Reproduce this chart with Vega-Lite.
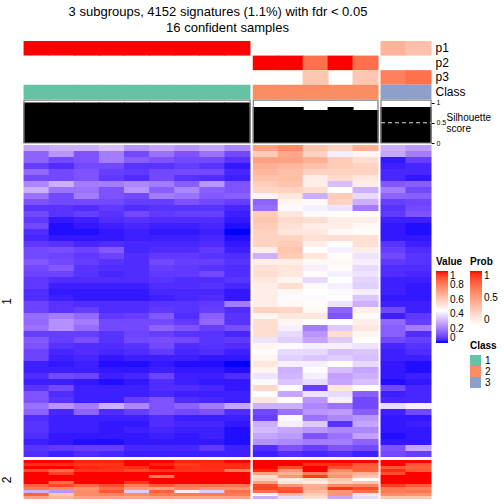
{"$schema":"https://vega.github.io/schema/vega-lite/v6.json","width":504,"height":504,"padding":0,"autosize":{"type":"none"},"background":"white","config":{"view":{"stroke":null},"font":"Liberation Sans","text":{"font":"Liberation Sans"}},"title":{"text":"3 subgroups, 4152 signatures (1.1%) with fdr < 0.05","font":"Liberation Sans","fontSize":13,"fontWeight":"normal","color":"#000000","anchor":"start","frame":"group","align":"center","dx":218,"dy":19,"offset":0},"datasets":{"cells":[
{"c":1,"r":1,"v":0.28},{"c":2,"r":1,"v":0.3},{"c":3,"r":1,"v":0.3},{"c":4,"r":1,"v":0.33},{"c":5,"r":1,"v":0.25},{"c":6,"r":1,"v":0.28},{"c":7,"r":1,"v":0.25},{"c":8,"r":1,"v":0.28},{"c":9,"r":1,"v":0.22},{"c":10,"r":1,"v":0.72},{"c":11,"r":1,"v":0.78},{"c":12,"r":1,"v":0.62},{"c":13,"r":1,"v":0.58},{"c":14,"r":1,"v":0.68},{"c":15,"r":1,"v":0.3},{"c":16,"r":1,"v":0.26},
{"c":1,"r":2,"v":0.15},{"c":2,"r":2,"v":0.25},{"c":3,"r":2,"v":0.12},{"c":4,"r":2,"v":0.2},{"c":5,"r":2,"v":0.1},{"c":6,"r":2,"v":0.18},{"c":7,"r":2,"v":0.12},{"c":8,"r":2,"v":0.18},{"c":9,"r":2,"v":0.1},{"c":10,"r":2,"v":0.6},{"c":11,"r":2,"v":0.7},{"c":12,"r":2,"v":0.58},{"c":13,"r":2,"v":0.42},{"c":14,"r":2,"v":0.48},{"c":15,"r":2,"v":0.28},{"c":16,"r":2,"v":0.2},
{"c":1,"r":3,"v":0.15},{"c":2,"r":3,"v":0.1},{"c":3,"r":3,"v":0.12},{"c":4,"r":3,"v":0.2},{"c":5,"r":3,"v":0.14},{"c":6,"r":3,"v":0.12},{"c":7,"r":3,"v":0.1},{"c":8,"r":3,"v":0.1},{"c":9,"r":3,"v":0.06},{"c":10,"r":3,"v":0.72},{"c":11,"r":3,"v":0.72},{"c":12,"r":3,"v":0.68},{"c":13,"r":3,"v":0.6},{"c":14,"r":3,"v":0.55},{"c":15,"r":3,"v":0.02},{"c":16,"r":3,"v":0.08},
{"c":1,"r":4,"v":0.08},{"c":2,"r":4,"v":0.05},{"c":3,"r":4,"v":0.1},{"c":4,"r":4,"v":0.1},{"c":5,"r":4,"v":0.06},{"c":6,"r":4,"v":0.06},{"c":7,"r":4,"v":0.08},{"c":8,"r":4,"v":0.06},{"c":9,"r":4,"v":0.02},{"c":10,"r":4,"v":0.68},{"c":11,"r":4,"v":0.66},{"c":12,"r":4,"v":0.63},{"c":13,"r":4,"v":0.6},{"c":14,"r":4,"v":0.58},{"c":15,"r":4,"v":0.03},{"c":16,"r":4,"v":0.04},
{"c":1,"r":5,"v":0.16},{"c":2,"r":5,"v":0.1},{"c":3,"r":5,"v":0.12},{"c":4,"r":5,"v":0.08},{"c":5,"r":5,"v":0.07},{"c":6,"r":5,"v":0.1},{"c":7,"r":5,"v":0.1},{"c":8,"r":5,"v":0.1},{"c":9,"r":5,"v":0.04},{"c":10,"r":5,"v":0.66},{"c":11,"r":5,"v":0.64},{"c":12,"r":5,"v":0.58},{"c":13,"r":5,"v":0.58},{"c":14,"r":5,"v":0.58},{"c":15,"r":5,"v":0.04},{"c":16,"r":5,"v":0.04},
{"c":1,"r":6,"v":0.1},{"c":2,"r":6,"v":0.1},{"c":3,"r":6,"v":0.12},{"c":4,"r":6,"v":0.07},{"c":5,"r":6,"v":0.05},{"c":6,"r":6,"v":0.1},{"c":7,"r":6,"v":0.06},{"c":8,"r":6,"v":0.05},{"c":9,"r":6,"v":0.03},{"c":10,"r":6,"v":0.63},{"c":11,"r":6,"v":0.64},{"c":12,"r":6,"v":0.5},{"c":13,"r":6,"v":0.56},{"c":14,"r":6,"v":0.52},{"c":15,"r":6,"v":0.04},{"c":16,"r":6,"v":0.02},
{"c":1,"r":7,"v":0.22},{"c":2,"r":7,"v":0.3},{"c":3,"r":7,"v":0.2},{"c":4,"r":7,"v":0.2},{"c":5,"r":7,"v":0.22},{"c":6,"r":7,"v":0.2},{"c":7,"r":7,"v":0.14},{"c":8,"r":7,"v":0.25},{"c":9,"r":7,"v":0.12},{"c":10,"r":7,"v":0.6},{"c":11,"r":7,"v":0.62},{"c":12,"r":7,"v":0.5},{"c":13,"r":7,"v":0.33},{"c":14,"r":7,"v":0.5},{"c":15,"r":7,"v":0.13},{"c":16,"r":7,"v":0.14},
{"c":1,"r":8,"v":0.3},{"c":2,"r":8,"v":0.18},{"c":3,"r":8,"v":0.18},{"c":4,"r":8,"v":0.12},{"c":5,"r":8,"v":0.25},{"c":6,"r":8,"v":0.14},{"c":7,"r":8,"v":0.22},{"c":8,"r":8,"v":0.14},{"c":9,"r":8,"v":0.12},{"c":10,"r":8,"v":0.57},{"c":11,"r":8,"v":0.58},{"c":12,"r":8,"v":0.55},{"c":13,"r":8,"v":0.45},{"c":14,"r":8,"v":0.3},{"c":15,"r":8,"v":0.2},{"c":16,"r":8,"v":0.1},
{"c":1,"r":9,"v":0.18},{"c":2,"r":9,"v":0.1},{"c":3,"r":9,"v":0.2},{"c":4,"r":9,"v":0.12},{"c":5,"r":9,"v":0.1},{"c":6,"r":9,"v":0.2},{"c":7,"r":9,"v":0.18},{"c":8,"r":9,"v":0.13},{"c":9,"r":9,"v":0.14},{"c":10,"r":9,"v":0.48},{"c":11,"r":9,"v":0.52},{"c":12,"r":9,"v":0.3},{"c":13,"r":9,"v":0.6},{"c":14,"r":9,"v":0.38},{"c":15,"r":9,"v":0.15},{"c":16,"r":9,"v":0.14},
{"c":1,"r":10,"v":0.12},{"c":2,"r":10,"v":0.1},{"c":3,"r":10,"v":0.1},{"c":4,"r":10,"v":0.1},{"c":5,"r":10,"v":0.08},{"c":6,"r":10,"v":0.08},{"c":7,"r":10,"v":0.12},{"c":8,"r":10,"v":0.1},{"c":9,"r":10,"v":0.08},{"c":10,"r":10,"v":0.15},{"c":11,"r":10,"v":0.48},{"c":12,"r":10,"v":0.47},{"c":13,"r":10,"v":0.58},{"c":14,"r":10,"v":0.3},{"c":15,"r":10,"v":0.08},{"c":16,"r":10,"v":0.09},
{"c":1,"r":11,"v":0.06},{"c":2,"r":11,"v":0.06},{"c":3,"r":11,"v":0.05},{"c":4,"r":11,"v":0.07},{"c":5,"r":11,"v":0.05},{"c":6,"r":11,"v":0.06},{"c":7,"r":11,"v":0.06},{"c":8,"r":11,"v":0.06},{"c":9,"r":11,"v":0.04},{"c":10,"r":11,"v":0.17},{"c":11,"r":11,"v":0.44},{"c":12,"r":11,"v":0.42},{"c":13,"r":11,"v":0.4},{"c":14,"r":11,"v":0.2},{"c":15,"r":11,"v":0.06},{"c":16,"r":11,"v":0.1},
{"c":1,"r":12,"v":0.1},{"c":2,"r":12,"v":0.06},{"c":3,"r":12,"v":0.08},{"c":4,"r":12,"v":0.06},{"c":5,"r":12,"v":0.1},{"c":6,"r":12,"v":0.07},{"c":7,"r":12,"v":0.08},{"c":8,"r":12,"v":0.08},{"c":9,"r":12,"v":0.03},{"c":10,"r":12,"v":0.6},{"c":11,"r":12,"v":0.52},{"c":12,"r":12,"v":0.44},{"c":13,"r":12,"v":0.46},{"c":14,"r":12,"v":0.46},{"c":15,"r":12,"v":0.07},{"c":16,"r":12,"v":0.12},
{"c":1,"r":13,"v":0.07},{"c":2,"r":13,"v":0.02},{"c":3,"r":13,"v":0.03},{"c":4,"r":13,"v":0.05},{"c":5,"r":13,"v":0.06},{"c":6,"r":13,"v":0.05},{"c":7,"r":13,"v":0.05},{"c":8,"r":13,"v":0.05},{"c":9,"r":13,"v":0.02},{"c":10,"r":13,"v":0.62},{"c":11,"r":13,"v":0.56},{"c":12,"r":13,"v":0.55},{"c":13,"r":13,"v":0.5},{"c":14,"r":13,"v":0.5},{"c":15,"r":13,"v":0.03},{"c":16,"r":13,"v":0.03},
{"c":1,"r":14,"v":0.1},{"c":2,"r":14,"v":0.01},{"c":3,"r":14,"v":0.02},{"c":4,"r":14,"v":0.03},{"c":5,"r":14,"v":0.04},{"c":6,"r":14,"v":0.03},{"c":7,"r":14,"v":0.03},{"c":8,"r":14,"v":0.04},{"c":9,"r":14,"v":0.01},{"c":10,"r":14,"v":0.6},{"c":11,"r":14,"v":0.54},{"c":12,"r":14,"v":0.5},{"c":13,"r":14,"v":0.5},{"c":14,"r":14,"v":0.47},{"c":15,"r":14,"v":0.02},{"c":16,"r":14,"v":0.01},
{"c":1,"r":15,"v":0.05},{"c":2,"r":15,"v":0.01},{"c":3,"r":15,"v":0.01},{"c":4,"r":15,"v":0.02},{"c":5,"r":15,"v":0.03},{"c":6,"r":15,"v":0.02},{"c":7,"r":15,"v":0.02},{"c":8,"r":15,"v":0.03},{"c":9,"r":15,"v":0},{"c":10,"r":15,"v":0.58},{"c":11,"r":15,"v":0.52},{"c":12,"r":15,"v":0.52},{"c":13,"r":15,"v":0.47},{"c":14,"r":15,"v":0.46},{"c":15,"r":15,"v":0.02},{"c":16,"r":15,"v":0.01},
{"c":1,"r":16,"v":0.04},{"c":2,"r":16,"v":0.02},{"c":3,"r":16,"v":0.02},{"c":4,"r":16,"v":0.02},{"c":5,"r":16,"v":0.03},{"c":6,"r":16,"v":0.03},{"c":7,"r":16,"v":0.03},{"c":8,"r":16,"v":0.04},{"c":9,"r":16,"v":0.01},{"c":10,"r":16,"v":0.58},{"c":11,"r":16,"v":0.58},{"c":12,"r":16,"v":0.54},{"c":13,"r":16,"v":0.55},{"c":14,"r":16,"v":0.54},{"c":15,"r":16,"v":0.02},{"c":16,"r":16,"v":0.02},
{"c":1,"r":17,"v":0.07},{"c":2,"r":17,"v":0.06},{"c":3,"r":17,"v":0.04},{"c":4,"r":17,"v":0.05},{"c":5,"r":17,"v":0.04},{"c":6,"r":17,"v":0.04},{"c":7,"r":17,"v":0.04},{"c":8,"r":17,"v":0.05},{"c":9,"r":17,"v":0.02},{"c":10,"r":17,"v":0.58},{"c":11,"r":17,"v":0.6},{"c":12,"r":17,"v":0.5},{"c":13,"r":17,"v":0.45},{"c":14,"r":17,"v":0.54},{"c":15,"r":17,"v":0.06},{"c":16,"r":17,"v":0.03},
{"c":1,"r":18,"v":0.1},{"c":2,"r":18,"v":0.11},{"c":3,"r":18,"v":0.09},{"c":4,"r":18,"v":0.13},{"c":5,"r":18,"v":0.04},{"c":6,"r":18,"v":0.05},{"c":7,"r":18,"v":0.05},{"c":8,"r":18,"v":0.07},{"c":9,"r":18,"v":0.03},{"c":10,"r":18,"v":0.5},{"c":11,"r":18,"v":0.62},{"c":12,"r":18,"v":0.45},{"c":13,"r":18,"v":0.42},{"c":14,"r":18,"v":0.5},{"c":15,"r":18,"v":0.08},{"c":16,"r":18,"v":0.05},
{"c":1,"r":19,"v":0.1},{"c":2,"r":19,"v":0.09},{"c":3,"r":19,"v":0.07},{"c":4,"r":19,"v":0.09},{"c":5,"r":19,"v":0.05},{"c":6,"r":19,"v":0.07},{"c":7,"r":19,"v":0.07},{"c":8,"r":19,"v":0.06},{"c":9,"r":19,"v":0.05},{"c":10,"r":19,"v":0.3},{"c":11,"r":19,"v":0.6},{"c":12,"r":19,"v":0.52},{"c":13,"r":19,"v":0.46},{"c":14,"r":19,"v":0.4},{"c":15,"r":19,"v":0.1},{"c":16,"r":19,"v":0.06},
{"c":1,"r":20,"v":0.13},{"c":2,"r":20,"v":0.1},{"c":3,"r":20,"v":0.08},{"c":4,"r":20,"v":0.06},{"c":5,"r":20,"v":0.05},{"c":6,"r":20,"v":0.1},{"c":7,"r":20,"v":0.08},{"c":8,"r":20,"v":0.08},{"c":9,"r":20,"v":0.06},{"c":10,"r":20,"v":0.5},{"c":11,"r":20,"v":0.5},{"c":12,"r":20,"v":0.47},{"c":13,"r":20,"v":0.47},{"c":14,"r":20,"v":0.42},{"c":15,"r":20,"v":0.07},{"c":16,"r":20,"v":0.06},
{"c":1,"r":21,"v":0.1},{"c":2,"r":21,"v":0.13},{"c":3,"r":21,"v":0.06},{"c":4,"r":21,"v":0.05},{"c":5,"r":21,"v":0.05},{"c":6,"r":21,"v":0.08},{"c":7,"r":21,"v":0.07},{"c":8,"r":21,"v":0.06},{"c":9,"r":21,"v":0.05},{"c":10,"r":21,"v":0.54},{"c":11,"r":21,"v":0.53},{"c":12,"r":21,"v":0.42},{"c":13,"r":21,"v":0.46},{"c":14,"r":21,"v":0.38},{"c":15,"r":21,"v":0.05},{"c":16,"r":21,"v":0.05},
{"c":1,"r":22,"v":0.09},{"c":2,"r":22,"v":0.09},{"c":3,"r":22,"v":0.06},{"c":4,"r":22,"v":0.04},{"c":5,"r":22,"v":0.05},{"c":6,"r":22,"v":0.07},{"c":7,"r":22,"v":0.07},{"c":8,"r":22,"v":0.1},{"c":9,"r":22,"v":0.05},{"c":10,"r":22,"v":0.55},{"c":11,"r":22,"v":0.52},{"c":12,"r":22,"v":0.46},{"c":13,"r":22,"v":0.42},{"c":14,"r":22,"v":0.4},{"c":15,"r":22,"v":0.05},{"c":16,"r":22,"v":0.04},
{"c":1,"r":23,"v":0.07},{"c":2,"r":23,"v":0.05},{"c":3,"r":23,"v":0.05},{"c":4,"r":23,"v":0.05},{"c":5,"r":23,"v":0.05},{"c":6,"r":23,"v":0.06},{"c":7,"r":23,"v":0.05},{"c":8,"r":23,"v":0.05},{"c":9,"r":23,"v":0.06},{"c":10,"r":23,"v":0.52},{"c":11,"r":23,"v":0.48},{"c":12,"r":23,"v":0.38},{"c":13,"r":23,"v":0.45},{"c":14,"r":23,"v":0.37},{"c":15,"r":23,"v":0.03},{"c":16,"r":23,"v":0.03},
{"c":1,"r":24,"v":0.07},{"c":2,"r":24,"v":0.03},{"c":3,"r":24,"v":0.03},{"c":4,"r":24,"v":0.03},{"c":5,"r":24,"v":0.03},{"c":6,"r":24,"v":0.05},{"c":7,"r":24,"v":0.05},{"c":8,"r":24,"v":0.06},{"c":9,"r":24,"v":0.04},{"c":10,"r":24,"v":0.5},{"c":11,"r":24,"v":0.55},{"c":12,"r":24,"v":0.44},{"c":13,"r":24,"v":0.42},{"c":14,"r":24,"v":0.36},{"c":15,"r":24,"v":0.03},{"c":16,"r":24,"v":0.02},
{"c":1,"r":25,"v":0.05},{"c":2,"r":25,"v":0.02},{"c":3,"r":25,"v":0.02},{"c":4,"r":25,"v":0.02},{"c":5,"r":25,"v":0.02},{"c":6,"r":25,"v":0.04},{"c":7,"r":25,"v":0.04},{"c":8,"r":25,"v":0.04},{"c":9,"r":25,"v":0.02},{"c":10,"r":25,"v":0.5},{"c":11,"r":25,"v":0.47},{"c":12,"r":25,"v":0.45},{"c":13,"r":25,"v":0.44},{"c":14,"r":25,"v":0.42},{"c":15,"r":25,"v":0.03},{"c":16,"r":25,"v":0.02},
{"c":1,"r":26,"v":0.05},{"c":2,"r":26,"v":0.03},{"c":3,"r":26,"v":0.02},{"c":4,"r":26,"v":0.02},{"c":5,"r":26,"v":0.02},{"c":6,"r":26,"v":0.03},{"c":7,"r":26,"v":0.04},{"c":8,"r":26,"v":0.05},{"c":9,"r":26,"v":0.02},{"c":10,"r":26,"v":0.5},{"c":11,"r":26,"v":0.44},{"c":12,"r":26,"v":0.44},{"c":13,"r":26,"v":0.45},{"c":14,"r":26,"v":0.34},{"c":15,"r":26,"v":0.02},{"c":16,"r":26,"v":0.02},
{"c":1,"r":27,"v":0.09},{"c":2,"r":27,"v":0.06},{"c":3,"r":27,"v":0.05},{"c":4,"r":27,"v":0.05},{"c":5,"r":27,"v":0.05},{"c":6,"r":27,"v":0.06},{"c":7,"r":27,"v":0.06},{"c":8,"r":27,"v":0.07},{"c":9,"r":27,"v":0.2},{"c":10,"r":27,"v":0.5},{"c":11,"r":27,"v":0.47},{"c":12,"r":27,"v":0.46},{"c":13,"r":27,"v":0.4},{"c":14,"r":27,"v":0.3},{"c":15,"r":27,"v":0.03},{"c":16,"r":27,"v":0.03},
{"c":1,"r":28,"v":0.09},{"c":2,"r":28,"v":0.06},{"c":3,"r":28,"v":0.08},{"c":4,"r":28,"v":0.05},{"c":5,"r":28,"v":0.05},{"c":6,"r":28,"v":0.07},{"c":7,"r":28,"v":0.06},{"c":8,"r":28,"v":0.08},{"c":9,"r":28,"v":0.05},{"c":10,"r":28,"v":0.58},{"c":11,"r":28,"v":0.57},{"c":12,"r":28,"v":0.47},{"c":13,"r":28,"v":0.15},{"c":14,"r":28,"v":0.5},{"c":15,"r":28,"v":0.1},{"c":16,"r":28,"v":0.03},
{"c":1,"r":29,"v":0.17},{"c":2,"r":29,"v":0.2},{"c":3,"r":29,"v":0.16},{"c":4,"r":29,"v":0.07},{"c":5,"r":29,"v":0.08},{"c":6,"r":29,"v":0.13},{"c":7,"r":29,"v":0.05},{"c":8,"r":29,"v":0.14},{"c":9,"r":29,"v":0.06},{"c":10,"r":29,"v":0.48},{"c":11,"r":29,"v":0.52},{"c":12,"r":29,"v":0.52},{"c":13,"r":29,"v":0.12},{"c":14,"r":29,"v":0.46},{"c":15,"r":29,"v":0.03},{"c":16,"r":29,"v":0.07},
{"c":1,"r":30,"v":0.16},{"c":2,"r":30,"v":0.24},{"c":3,"r":30,"v":0.2},{"c":4,"r":30,"v":0.1},{"c":5,"r":30,"v":0.1},{"c":6,"r":30,"v":0.1},{"c":7,"r":30,"v":0.07},{"c":8,"r":30,"v":0.16},{"c":9,"r":30,"v":0.06},{"c":10,"r":30,"v":0.55},{"c":11,"r":30,"v":0.48},{"c":12,"r":30,"v":0.45},{"c":13,"r":30,"v":0.45},{"c":14,"r":30,"v":0.5},{"c":15,"r":30,"v":0.16},{"c":16,"r":30,"v":0.08},
{"c":1,"r":31,"v":0.18},{"c":2,"r":31,"v":0.24},{"c":3,"r":31,"v":0.17},{"c":4,"r":31,"v":0.1},{"c":5,"r":31,"v":0.1},{"c":6,"r":31,"v":0.15},{"c":7,"r":31,"v":0.12},{"c":8,"r":31,"v":0.08},{"c":9,"r":31,"v":0.11},{"c":10,"r":31,"v":0.55},{"c":11,"r":31,"v":0.42},{"c":12,"r":31,"v":0.2},{"c":13,"r":31,"v":0.35},{"c":14,"r":31,"v":0.52},{"c":15,"r":31,"v":0.14},{"c":16,"r":31,"v":0.2},
{"c":1,"r":32,"v":0.08},{"c":2,"r":32,"v":0.08},{"c":3,"r":32,"v":0.08},{"c":4,"r":32,"v":0.06},{"c":5,"r":32,"v":0.09},{"c":6,"r":32,"v":0.08},{"c":7,"r":32,"v":0.06},{"c":8,"r":32,"v":0.06},{"c":9,"r":32,"v":0.04},{"c":10,"r":32,"v":0.55},{"c":11,"r":32,"v":0.38},{"c":12,"r":32,"v":0.25},{"c":13,"r":32,"v":0.55},{"c":14,"r":32,"v":0.48},{"c":15,"r":32,"v":0.14},{"c":16,"r":32,"v":0.05},
{"c":1,"r":33,"v":0.13},{"c":2,"r":33,"v":0.08},{"c":3,"r":33,"v":0.11},{"c":4,"r":33,"v":0.06},{"c":5,"r":33,"v":0.1},{"c":6,"r":33,"v":0.11},{"c":7,"r":33,"v":0.1},{"c":8,"r":33,"v":0.06},{"c":9,"r":33,"v":0.07},{"c":10,"r":33,"v":0.4},{"c":11,"r":33,"v":0.36},{"c":12,"r":33,"v":0.28},{"c":13,"r":33,"v":0.35},{"c":14,"r":33,"v":0.45},{"c":15,"r":33,"v":0.1},{"c":16,"r":33,"v":0.08},
{"c":1,"r":34,"v":0.12},{"c":2,"r":34,"v":0.06},{"c":3,"r":34,"v":0.05},{"c":4,"r":34,"v":0.05},{"c":5,"r":34,"v":0.06},{"c":6,"r":34,"v":0.1},{"c":7,"r":34,"v":0.05},{"c":8,"r":34,"v":0.06},{"c":9,"r":34,"v":0.05},{"c":10,"r":34,"v":0.48},{"c":11,"r":34,"v":0.44},{"c":12,"r":34,"v":0.42},{"c":13,"r":34,"v":0.42},{"c":14,"r":34,"v":0.4},{"c":15,"r":34,"v":0.04},{"c":16,"r":34,"v":0.06},
{"c":1,"r":35,"v":0.09},{"c":2,"r":35,"v":0.04},{"c":3,"r":35,"v":0.05},{"c":4,"r":35,"v":0.04},{"c":5,"r":35,"v":0.05},{"c":6,"r":35,"v":0.07},{"c":7,"r":35,"v":0.04},{"c":8,"r":35,"v":0.05},{"c":9,"r":35,"v":0.03},{"c":10,"r":35,"v":0.46},{"c":11,"r":35,"v":0.38},{"c":12,"r":35,"v":0.38},{"c":13,"r":35,"v":0.33},{"c":14,"r":35,"v":0.34},{"c":15,"r":35,"v":0.03},{"c":16,"r":35,"v":0.05},
{"c":1,"r":36,"v":0.09},{"c":2,"r":36,"v":0.03},{"c":3,"r":36,"v":0.04},{"c":4,"r":36,"v":0.02},{"c":5,"r":36,"v":0.03},{"c":6,"r":36,"v":0.03},{"c":7,"r":36,"v":0.03},{"c":8,"r":36,"v":0.02},{"c":9,"r":36,"v":0.02},{"c":10,"r":36,"v":0.48},{"c":11,"r":36,"v":0.36},{"c":12,"r":36,"v":0.34},{"c":13,"r":36,"v":0.36},{"c":14,"r":36,"v":0.33},{"c":15,"r":36,"v":0.03},{"c":16,"r":36,"v":0.03},
{"c":1,"r":37,"v":0.03},{"c":2,"r":37,"v":0.02},{"c":3,"r":37,"v":0.03},{"c":4,"r":37,"v":0.01},{"c":5,"r":37,"v":0.01},{"c":6,"r":37,"v":0.02},{"c":7,"r":37,"v":0.01},{"c":8,"r":37,"v":0.01},{"c":9,"r":37,"v":0},{"c":10,"r":37,"v":0.52},{"c":11,"r":37,"v":0.42},{"c":12,"r":37,"v":0.42},{"c":13,"r":37,"v":0.46},{"c":14,"r":37,"v":0.38},{"c":15,"r":37,"v":0.02},{"c":16,"r":37,"v":0.01},
{"c":1,"r":38,"v":0.03},{"c":2,"r":38,"v":0.03},{"c":3,"r":38,"v":0.03},{"c":4,"r":38,"v":0.02},{"c":5,"r":38,"v":0.02},{"c":6,"r":38,"v":0.03},{"c":7,"r":38,"v":0.02},{"c":8,"r":38,"v":0.02},{"c":9,"r":38,"v":0.01},{"c":10,"r":38,"v":0.48},{"c":11,"r":38,"v":0.3},{"c":12,"r":38,"v":0.46},{"c":13,"r":38,"v":0.33},{"c":14,"r":38,"v":0.28},{"c":15,"r":38,"v":0.02},{"c":16,"r":38,"v":0.01},
{"c":1,"r":39,"v":0.05},{"c":2,"r":39,"v":0.1},{"c":3,"r":39,"v":0.09},{"c":4,"r":39,"v":0.03},{"c":5,"r":39,"v":0.04},{"c":6,"r":39,"v":0.09},{"c":7,"r":39,"v":0.03},{"c":8,"r":39,"v":0.03},{"c":9,"r":39,"v":0.05},{"c":10,"r":39,"v":0.4},{"c":11,"r":39,"v":0.31},{"c":12,"r":39,"v":0.42},{"c":13,"r":39,"v":0.27},{"c":14,"r":39,"v":0.3},{"c":15,"r":39,"v":0.02},{"c":16,"r":39,"v":0.03},
{"c":1,"r":40,"v":0.03},{"c":2,"r":40,"v":0.03},{"c":3,"r":40,"v":0.02},{"c":4,"r":40,"v":0.01},{"c":5,"r":40,"v":0.02},{"c":6,"r":40,"v":0.05},{"c":7,"r":40,"v":0.03},{"c":8,"r":40,"v":0.02},{"c":9,"r":40,"v":0.02},{"c":10,"r":40,"v":0.44},{"c":11,"r":40,"v":0.34},{"c":12,"r":40,"v":0.38},{"c":13,"r":40,"v":0.28},{"c":14,"r":40,"v":0.33},{"c":15,"r":40,"v":0.01},{"c":16,"r":40,"v":0.02},
{"c":1,"r":41,"v":0.06},{"c":2,"r":41,"v":0.1},{"c":3,"r":41,"v":0.03},{"c":4,"r":41,"v":0.03},{"c":5,"r":41,"v":0.03},{"c":6,"r":41,"v":0.05},{"c":7,"r":41,"v":0.05},{"c":8,"r":41,"v":0.04},{"c":9,"r":41,"v":0.02},{"c":10,"r":41,"v":0.56},{"c":11,"r":41,"v":0.44},{"c":12,"r":41,"v":0.08},{"c":13,"r":41,"v":0.52},{"c":14,"r":41,"v":0.46},{"c":15,"r":41,"v":0.1},{"c":16,"r":41,"v":0.04},
{"c":1,"r":42,"v":0.12},{"c":2,"r":42,"v":0.05},{"c":3,"r":42,"v":0.03},{"c":4,"r":42,"v":0.03},{"c":5,"r":42,"v":0.03},{"c":6,"r":42,"v":0.04},{"c":7,"r":42,"v":0.03},{"c":8,"r":42,"v":0.03},{"c":9,"r":42,"v":0.03},{"c":10,"r":42,"v":0.45},{"c":11,"r":42,"v":0.28},{"c":12,"r":42,"v":0.4},{"c":13,"r":42,"v":0.38},{"c":14,"r":42,"v":0.14},{"c":15,"r":42,"v":0.03},{"c":16,"r":42,"v":0.04},
{"c":1,"r":43,"v":0.12},{"c":2,"r":43,"v":0.06},{"c":3,"r":43,"v":0.03},{"c":4,"r":43,"v":0.03},{"c":5,"r":43,"v":0.08},{"c":6,"r":43,"v":0.12},{"c":7,"r":43,"v":0.05},{"c":8,"r":43,"v":0.04},{"c":9,"r":43,"v":0.03},{"c":10,"r":43,"v":0.52},{"c":11,"r":43,"v":0.46},{"c":12,"r":43,"v":0.25},{"c":13,"r":43,"v":0.42},{"c":14,"r":43,"v":0.1},{"c":15,"r":43,"v":0.04},{"c":16,"r":43,"v":0.04},
{"c":1,"r":44,"v":0.18},{"c":2,"r":44,"v":0.25},{"c":3,"r":44,"v":0.2},{"c":4,"r":44,"v":0.3},{"c":5,"r":44,"v":0.22},{"c":6,"r":44,"v":0.12},{"c":7,"r":44,"v":0.15},{"c":8,"r":44,"v":0.2},{"c":9,"r":44,"v":0.28},{"c":10,"r":44,"v":0.3},{"c":11,"r":44,"v":0.3},{"c":12,"r":44,"v":0.22},{"c":13,"r":44,"v":0.18},{"c":14,"r":44,"v":0.1},{"c":15,"r":44,"v":0.38},{"c":16,"r":44,"v":0.42},
{"c":1,"r":45,"v":0.15},{"c":2,"r":45,"v":0.04},{"c":3,"r":45,"v":0.15},{"c":4,"r":45,"v":0.05},{"c":5,"r":45,"v":0.08},{"c":6,"r":45,"v":0.12},{"c":7,"r":45,"v":0.1},{"c":8,"r":45,"v":0.12},{"c":9,"r":45,"v":0.05},{"c":10,"r":45,"v":0.1},{"c":11,"r":45,"v":0.18},{"c":12,"r":45,"v":0.25},{"c":13,"r":45,"v":0.26},{"c":14,"r":45,"v":0.14},{"c":15,"r":45,"v":0.03},{"c":16,"r":45,"v":0.1},
{"c":1,"r":46,"v":0.05},{"c":2,"r":46,"v":0.03},{"c":3,"r":46,"v":0.03},{"c":4,"r":46,"v":0.03},{"c":5,"r":46,"v":0.03},{"c":6,"r":46,"v":0.05},{"c":7,"r":46,"v":0.03},{"c":8,"r":46,"v":0.03},{"c":9,"r":46,"v":0.03},{"c":10,"r":46,"v":0.08},{"c":11,"r":46,"v":0.44},{"c":12,"r":46,"v":0.18},{"c":13,"r":46,"v":0.22},{"c":14,"r":46,"v":0.25},{"c":15,"r":46,"v":0.02},{"c":16,"r":46,"v":0.02},
{"c":1,"r":47,"v":0.06},{"c":2,"r":47,"v":0.03},{"c":3,"r":47,"v":0.03},{"c":4,"r":47,"v":0.02},{"c":5,"r":47,"v":0.02},{"c":6,"r":47,"v":0.05},{"c":7,"r":47,"v":0.04},{"c":8,"r":47,"v":0.04},{"c":9,"r":47,"v":0.02},{"c":10,"r":47,"v":0.3},{"c":11,"r":47,"v":0.42},{"c":12,"r":47,"v":0.35},{"c":13,"r":47,"v":0.06},{"c":14,"r":47,"v":0.28},{"c":15,"r":47,"v":0.02},{"c":16,"r":47,"v":0.03},
{"c":1,"r":48,"v":0.06},{"c":2,"r":48,"v":0.03},{"c":3,"r":48,"v":0.03},{"c":4,"r":48,"v":0.02},{"c":5,"r":48,"v":0.03},{"c":6,"r":48,"v":0.04},{"c":7,"r":48,"v":0.03},{"c":8,"r":48,"v":0.03},{"c":9,"r":48,"v":0.01},{"c":10,"r":48,"v":0.32},{"c":11,"r":48,"v":0.28},{"c":12,"r":48,"v":0.25},{"c":13,"r":48,"v":0.22},{"c":14,"r":48,"v":0.22},{"c":15,"r":48,"v":0.02},{"c":16,"r":48,"v":0.02},
{"c":1,"r":49,"v":0.05},{"c":2,"r":49,"v":0.02},{"c":3,"r":49,"v":0.02},{"c":4,"r":49,"v":0.02},{"c":5,"r":49,"v":0.02},{"c":6,"r":49,"v":0.03},{"c":7,"r":49,"v":0.02},{"c":8,"r":49,"v":0.03},{"c":9,"r":49,"v":0.01},{"c":10,"r":49,"v":0.28},{"c":11,"r":49,"v":0.26},{"c":12,"r":49,"v":0.12},{"c":13,"r":49,"v":0.18},{"c":14,"r":49,"v":0.27},{"c":15,"r":49,"v":0.01},{"c":16,"r":49,"v":0.02},
{"c":1,"r":50,"v":0.03},{"c":2,"r":50,"v":0.02},{"c":3,"r":50,"v":0.01},{"c":4,"r":50,"v":0.01},{"c":5,"r":50,"v":0.02},{"c":6,"r":50,"v":0.02},{"c":7,"r":50,"v":0.02},{"c":8,"r":50,"v":0.02},{"c":9,"r":50,"v":0.01},{"c":10,"r":50,"v":0.24},{"c":11,"r":50,"v":0.22},{"c":12,"r":50,"v":0.2},{"c":13,"r":50,"v":0.2},{"c":14,"r":50,"v":0.15},{"c":15,"r":50,"v":0.02},{"c":16,"r":50,"v":0.02},
{"c":1,"r":51,"v":0.06},{"c":2,"r":51,"v":0.07},{"c":3,"r":51,"v":0.08},{"c":4,"r":51,"v":0.08},{"c":5,"r":51,"v":0.04},{"c":6,"r":51,"v":0.04},{"c":7,"r":51,"v":0.04},{"c":8,"r":51,"v":0.07},{"c":9,"r":51,"v":0.03},{"c":10,"r":51,"v":0.05},{"c":11,"r":51,"v":0.12},{"c":12,"r":51,"v":0.08},{"c":13,"r":51,"v":0.12},{"c":14,"r":51,"v":0.1},{"c":15,"r":51,"v":0.12},{"c":16,"r":51,"v":0.28},
{"c":1,"r":52,"v":0.05},{"c":2,"r":52,"v":0.03},{"c":3,"r":52,"v":0.05},{"c":4,"r":52,"v":0.04},{"c":5,"r":52,"v":0.03},{"c":6,"r":52,"v":0.03},{"c":7,"r":52,"v":0.03},{"c":8,"r":52,"v":0.03},{"c":9,"r":52,"v":0.03},{"c":10,"r":52,"v":0.03},{"c":11,"r":52,"v":0.05},{"c":12,"r":52,"v":0.04},{"c":13,"r":52,"v":0.05},{"c":14,"r":52,"v":0.03},{"c":15,"r":52,"v":0.1},{"c":16,"r":52,"v":0.08}
],"cells2":[
{"c":1,"r":1,"v":1},{"c":2,"r":1,"v":1},{"c":3,"r":1,"v":0.98},{"c":4,"r":1,"v":0.98},{"c":5,"r":1,"v":1},{"c":6,"r":1,"v":1},{"c":7,"r":1,"v":0.98},{"c":8,"r":1,"v":0.98},{"c":9,"r":1,"v":1},{"c":10,"r":1,"v":1},{"c":11,"r":1,"v":1},{"c":12,"r":1,"v":1},{"c":13,"r":1,"v":1},{"c":14,"r":1,"v":1},{"c":15,"r":1,"v":1},{"c":16,"r":1,"v":1},
{"c":1,"r":2,"v":0.97},{"c":2,"r":2,"v":0.97},{"c":3,"r":2,"v":0.96},{"c":4,"r":2,"v":0.96},{"c":5,"r":2,"v":1},{"c":6,"r":2,"v":0.98},{"c":7,"r":2,"v":0.95},{"c":8,"r":2,"v":0.97},{"c":9,"r":2,"v":0.97},{"c":10,"r":2,"v":1},{"c":11,"r":2,"v":1},{"c":12,"r":2,"v":0.97},{"c":13,"r":2,"v":0.97},{"c":14,"r":2,"v":0.9},{"c":15,"r":2,"v":1},{"c":16,"r":2,"v":0.9},
{"c":1,"r":3,"v":1},{"c":2,"r":3,"v":1},{"c":3,"r":3,"v":0.98},{"c":4,"r":3,"v":0.97},{"c":5,"r":3,"v":0.97},{"c":6,"r":3,"v":1},{"c":7,"r":3,"v":0.97},{"c":8,"r":3,"v":0.97},{"c":9,"r":3,"v":0.97},{"c":10,"r":3,"v":1},{"c":11,"r":3,"v":0.92},{"c":12,"r":3,"v":1},{"c":13,"r":3,"v":0.92},{"c":14,"r":3,"v":0.88},{"c":15,"r":3,"v":0.9},{"c":16,"r":3,"v":0.88},
{"c":1,"r":4,"v":0.92},{"c":2,"r":4,"v":0.85},{"c":3,"r":4,"v":0.96},{"c":4,"r":4,"v":0.96},{"c":5,"r":4,"v":0.93},{"c":6,"r":4,"v":0.96},{"c":7,"r":4,"v":0.96},{"c":8,"r":4,"v":0.96},{"c":9,"r":4,"v":0.82},{"c":10,"r":4,"v":0.98},{"c":11,"r":4,"v":0.75},{"c":12,"r":4,"v":1},{"c":13,"r":4,"v":0.78},{"c":14,"r":4,"v":0.88},{"c":15,"r":4,"v":0.97},{"c":16,"r":4,"v":0.9},
{"c":1,"r":5,"v":1},{"c":2,"r":5,"v":0.94},{"c":3,"r":5,"v":1},{"c":4,"r":5,"v":1},{"c":5,"r":5,"v":1},{"c":6,"r":5,"v":1},{"c":7,"r":5,"v":1},{"c":8,"r":5,"v":1},{"c":9,"r":5,"v":1},{"c":10,"r":5,"v":0.72},{"c":11,"r":5,"v":0.68},{"c":12,"r":5,"v":0.82},{"c":13,"r":5,"v":0.72},{"c":14,"r":5,"v":0.68},{"c":15,"r":5,"v":0.92},{"c":16,"r":5,"v":1},
{"c":1,"r":6,"v":1},{"c":2,"r":6,"v":1},{"c":3,"r":6,"v":1},{"c":4,"r":6,"v":1},{"c":5,"r":6,"v":1},{"c":6,"r":6,"v":0.82},{"c":7,"r":6,"v":1},{"c":8,"r":6,"v":1},{"c":9,"r":6,"v":1},{"c":10,"r":6,"v":0.55},{"c":11,"r":6,"v":0.75},{"c":12,"r":6,"v":0.95},{"c":13,"r":6,"v":0.76},{"c":14,"r":6,"v":0.62},{"c":15,"r":6,"v":1},{"c":16,"r":6,"v":1},
{"c":1,"r":7,"v":1},{"c":2,"r":7,"v":1},{"c":3,"r":7,"v":1},{"c":4,"r":7,"v":1},{"c":5,"r":7,"v":1},{"c":6,"r":7,"v":1},{"c":7,"r":7,"v":1},{"c":8,"r":7,"v":1},{"c":9,"r":7,"v":1},{"c":10,"r":7,"v":0.58},{"c":11,"r":7,"v":0.5},{"c":12,"r":7,"v":0.55},{"c":13,"r":7,"v":0.62},{"c":14,"r":7,"v":0.46},{"c":15,"r":7,"v":1},{"c":16,"r":7,"v":1},
{"c":1,"r":8,"v":1},{"c":2,"r":8,"v":0.85},{"c":3,"r":8,"v":1},{"c":4,"r":8,"v":1},{"c":5,"r":8,"v":0.96},{"c":6,"r":8,"v":1},{"c":7,"r":8,"v":1},{"c":8,"r":8,"v":1},{"c":9,"r":8,"v":1},{"c":10,"r":8,"v":0.72},{"c":11,"r":8,"v":0.53},{"c":12,"r":8,"v":0.5},{"c":13,"r":8,"v":0.58},{"c":14,"r":8,"v":0.62},{"c":15,"r":8,"v":1},{"c":16,"r":8,"v":1},
{"c":1,"r":9,"v":0.88},{"c":2,"r":9,"v":0.93},{"c":3,"r":9,"v":0.87},{"c":4,"r":9,"v":0.92},{"c":5,"r":9,"v":0.82},{"c":6,"r":9,"v":0.9},{"c":7,"r":9,"v":0.85},{"c":8,"r":9,"v":0.85},{"c":9,"r":9,"v":0.84},{"c":10,"r":9,"v":0.92},{"c":11,"r":9,"v":0.75},{"c":12,"r":9,"v":0.68},{"c":13,"r":9,"v":0.78},{"c":14,"r":9,"v":0.8},{"c":15,"r":9,"v":0.95},{"c":16,"r":9,"v":0.9},
{"c":1,"r":10,"v":0.82},{"c":2,"r":10,"v":0.78},{"c":3,"r":10,"v":0.76},{"c":4,"r":10,"v":0.85},{"c":5,"r":10,"v":0.74},{"c":6,"r":10,"v":0.72},{"c":7,"r":10,"v":0.8},{"c":8,"r":10,"v":0.75},{"c":9,"r":10,"v":0.76},{"c":10,"r":10,"v":0.94},{"c":11,"r":10,"v":0.9},{"c":12,"r":10,"v":0.7},{"c":13,"r":10,"v":0.96},{"c":14,"r":10,"v":0.92},{"c":15,"r":10,"v":0.82},{"c":16,"r":10,"v":0.8},
{"c":1,"r":11,"v":0.3},{"c":2,"r":11,"v":0.25},{"c":3,"r":11,"v":0.78},{"c":4,"r":11,"v":0.9},{"c":5,"r":11,"v":0.35},{"c":6,"r":11,"v":0.88},{"c":7,"r":11,"v":0.5},{"c":8,"r":11,"v":0.35},{"c":9,"r":11,"v":0.85},{"c":10,"r":11,"v":0.85},{"c":11,"r":11,"v":0.92},{"c":12,"r":11,"v":0.66},{"c":13,"r":11,"v":0.75},{"c":14,"r":11,"v":0.86},{"c":15,"r":11,"v":0.82},{"c":16,"r":11,"v":0.84},
{"c":1,"r":12,"v":0.88},{"c":2,"r":12,"v":0.62},{"c":3,"r":12,"v":0.78},{"c":4,"r":12,"v":0.8},{"c":5,"r":12,"v":0.78},{"c":6,"r":12,"v":0.82},{"c":7,"r":12,"v":0.82},{"c":8,"r":12,"v":0.82},{"c":9,"r":12,"v":0.82},{"c":10,"r":12,"v":0.48},{"c":11,"r":12,"v":0.65},{"c":12,"r":12,"v":0.6},{"c":13,"r":12,"v":0.75},{"c":14,"r":12,"v":0.52},{"c":15,"r":12,"v":0.78},{"c":16,"r":12,"v":0.76},
{"c":1,"r":13,"v":0.72},{"c":2,"r":13,"v":0.66},{"c":3,"r":13,"v":0.72},{"c":4,"r":13,"v":0.72},{"c":5,"r":13,"v":0.7},{"c":6,"r":13,"v":0.72},{"c":7,"r":13,"v":0.7},{"c":8,"r":13,"v":0.7},{"c":9,"r":13,"v":0.72},{"c":10,"r":13,"v":0.3},{"c":11,"r":13,"v":0.38},{"c":12,"r":13,"v":0.55},{"c":13,"r":13,"v":0.28},{"c":14,"r":13,"v":0.38},{"c":15,"r":13,"v":0.62},{"c":16,"r":13,"v":0.62}
],"ann":[{"c":1,"k":"p1","p":1},{"c":2,"k":"p1","p":1},{"c":3,"k":"p1","p":1},{"c":4,"k":"p1","p":1},{"c":5,"k":"p1","p":1},{"c":6,"k":"p1","p":1},{"c":7,"k":"p1","p":1},{"c":8,"k":"p1","p":1},{"c":9,"k":"p1","p":1},{"c":15,"k":"p1","p":0.4},{"c":16,"k":"p1","p":0.33},{"c":10,"k":"p2","p":1},{"c":11,"k":"p2","p":1},{"c":12,"k":"p2","p":0.72},{"c":13,"k":"p2","p":1},{"c":14,"k":"p2","p":0.72},{"c":12,"k":"p3","p":0.3},{"c":14,"k":"p3","p":0.3},{"c":15,"k":"p3","p":0.65},{"c":16,"k":"p3","p":0.72}],"samples":[{"c":1,"cl":"1","s":1},{"c":2,"cl":"1","s":1},{"c":3,"cl":"1","s":1},{"c":4,"cl":"1","s":1},{"c":5,"cl":"1","s":1},{"c":6,"cl":"1","s":1},{"c":7,"cl":"1","s":1},{"c":8,"cl":"1","s":1},{"c":9,"cl":"1","s":1},{"c":10,"cl":"2","s":0.89},{"c":11,"cl":"2","s":0.89},{"c":12,"cl":"2","s":0.815},{"c":13,"cl":"2","s":0.89},{"c":14,"cl":"2","s":0.815},{"c":15,"cl":"3","s":0.89},{"c":16,"cl":"3","s":0.89}],"frames":[{"a":0.5,"b":9.5,"t":1.06,"z":0},{"a":9.5001,"b":14.5,"t":1.06,"z":0},{"a":14.5001,"b":16.5,"t":1.06,"z":0}],"cut":[{"a":14.5001,"b":16.5,"m":0.5}]},"resolve":{"scale":{"y":"independent","color":"independent"},"axis":{"y":"independent"}},"encoding":{"x":{"field":"c","type":"quantitative","scale":{"domain":[0.5,9.5,9.5001,14.5,14.5001,16.5],"range":[24,250,253.3,378,381,431],"nice":false,"zero":false},"axis":{"orient":"top","labels":false,"ticks":false,"domain":false,"grid":false,"title":"16 confident samples","titleFont":"Liberation Sans","titleFontSize":13,"titleFontWeight":"normal","titleColor":"#000000","titleX":227,"titleY":34}}},"layer":[{"data":{"name":"ann"},"mark":{"type":"rect","width":26},"encoding":{"y":{"field":"k","type":"ordinal","scale":{"domain":["p1","p2","p3","Class"],"range":[41,99.3],"paddingInner":0,"paddingOuter":0},"axis":{"orient":"right","offset":-73,"title":null,"ticks":false,"domain":false,"grid":false,"labelFont":"Liberation Sans","labelFontSize":12,"labelColor":"#000000","labelPadding":4}},"color":{"field":"p","type":"quantitative","scale":{"domain":[0,1],"range":["#ffffff","#ff0000"],"interpolate":"lab"},"legend":{"title":"Prob","orient":"none","legendX":470,"legendY":257,"direction":"vertical","gradientLength":54,"gradientThickness":12,"values":[0,0.5,1],"format":"~g","titleFont":"Liberation Sans","titleFontSize":10,"titleFontWeight":"bold","titleColor":"#000000","titlePadding":4,"labelFont":"Liberation Sans","labelFontSize":10,"labelColor":"#000000","labelOverlap":false,"labelBaseline":"middle","gradientStrokeWidth":0}}}},{"data":{"name":"samples"},"mark":{"type":"rect","width":26},"encoding":{"y":{"datum":"Class","type":"ordinal","scale":{"domain":["p1","p2","p3","Class"],"range":[41,99.3],"paddingInner":0,"paddingOuter":0},"axis":null},"color":{"field":"cl","type":"nominal","scale":{"domain":["1","2","3"],"range":["#66C2A5","#FC8D62","#8DA0CB"]},"legend":{"title":"Class","orient":"none","legendX":470,"legendY":341,"symbolType":"square","symbolSize":121,"symbolStrokeWidth":0,"symbolOpacity":1,"rowPadding":0,"titleFont":"Liberation Sans","titleFontSize":10,"titleFontWeight":"bold","titleColor":"#000000","titlePadding":4,"labelFont":"Liberation Sans","labelFontSize":10,"labelColor":"#000000"}}}},{"data":{"name":"samples"},"mark":{"type":"rect","width":26,"color":"#000000"},"encoding":{"y":{"field":"s","type":"quantitative","scale":{"domain":[0,1],"range":[143,102.5],"nice":false,"zero":false,"clamp":false},"axis":{"orient":"right","offset":-73,"values":[0,0.5,1],"format":"~g","grid":false,"domain":false,"tickColor":"#000000","tickSize":3,"labelFont":"Liberation Sans","labelFontSize":7,"labelColor":"#000000","labelPadding":2,"labelOverlap":false,"title":["Silhouette","score"],"titleFont":"Liberation Sans","titleFontSize":10,"titleFontWeight":"normal","titleColor":"#000000","titleAngle":0,"titleAlign":"left","titleBaseline":"alphabetic","titleX":15,"titleY":120,"titleLineHeight":11}},"y2":{"datum":0}}},{"data":{"name":"frames"},"mark":{"type":"rect","filled":false,"stroke":"#808080","strokeWidth":1.2},"encoding":{"x":{"field":"a","type":"quantitative"},"x2":{"field":"b"},"y":{"field":"t","type":"quantitative","scale":{"domain":[0,1],"range":[143,102.5],"nice":false,"zero":false,"clamp":false},"axis":null},"y2":{"field":"z"}}},{"data":{"name":"cut"},"mark":{"type":"rule","color":"#d9d9d9","strokeWidth":1,"strokeDash":[4,3]},"encoding":{"x":{"field":"a","type":"quantitative"},"x2":{"field":"b"},"y":{"field":"m","type":"quantitative","scale":{"domain":[0,1],"range":[143,102.5],"nice":false,"zero":false},"axis":null}}},{"data":{"name":"cells"},"mark":{"type":"rect","width":26},"encoding":{"y":{"field":"r","type":"ordinal","scale":{"range":[145,457],"paddingInner":0,"paddingOuter":0},"axis":{"orient":"left","labels":false,"ticks":false,"domain":false,"grid":false,"title":"1","titleX":13,"titleFont":"Liberation Sans","titleFontSize":12,"titleFontWeight":"normal","titleColor":"#000000"}},"color":{"field":"v","type":"quantitative","scale":{"domain":[0,0.45,1],"range":["#0000ff","#ffffff","#ff0000"],"interpolate":"lab"},"legend":{"title":"Value","orient":"none","legendX":436,"legendY":257,"direction":"vertical","gradientLength":72,"gradientThickness":12,"values":[0,0.2,0.4,0.6,0.8,1],"format":"~g","titleFont":"Liberation Sans","titleFontSize":10,"titleFontWeight":"bold","titleColor":"#000000","titlePadding":4,"labelFont":"Liberation Sans","labelFontSize":10,"labelColor":"#000000","labelOverlap":false,"labelBaseline":"middle","gradientStrokeWidth":0}}}},{"data":{"name":"cells2"},"mark":{"type":"rect","width":26},"encoding":{"y":{"field":"r","type":"ordinal","scale":{"range":[460,499],"paddingInner":0,"paddingOuter":0},"axis":{"orient":"left","labels":false,"ticks":false,"domain":false,"grid":false,"title":"2","titleX":13,"titleFont":"Liberation Sans","titleFontSize":12,"titleFontWeight":"normal","titleColor":"#000000"}},"color":{"field":"v","type":"quantitative","scale":{"domain":[0,0.45,1],"range":["#0000ff","#ffffff","#ff0000"],"interpolate":"lab"},"legend":null}}}]}
